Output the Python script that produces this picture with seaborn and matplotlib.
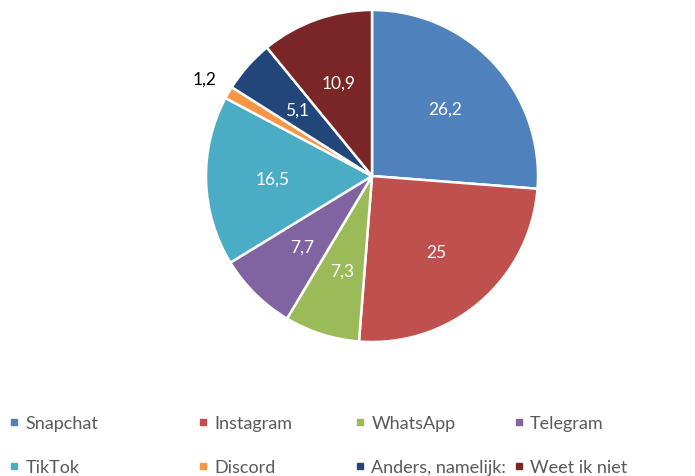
import matplotlib
matplotlib.use("Agg")
import matplotlib.pyplot as plt
from matplotlib.lines import Line2D
import seaborn as sns

categories = ["Snapchat", "Instagram", "WhatsApp", "Telegram", "TikTok",
              "Discord", "Anders, namelijk:", "Weet ik niet"]
values = [26.2, 25, 7.3, 7.7, 16.5, 1.2, 5.1, 10.9]
colors = ["#4F81BD", "#C0504D", "#9BBB59", "#8064A2", "#4BACC6",
          "#F79646", "#23467A", "#7A2626"]

sns.set_theme(style="white")
plt.rcParams['font.family'] = ['Lato', 'DejaVu Sans']

fig = plt.figure(figsize=(6.95, 4.77), dpi=100)
W, H = 695, 477
R_px = 166
lim = 1.25
side = 2 * R_px * lim
cx, cy = 372, 177
ax = fig.add_axes([(cx - side / 2) / W, (H - cy - side / 2) / H, side / W, side / H])

def fmt(v):
    s = f"{v:g}"
    return s.replace(".", ",")

wedges, texts = ax.pie(values, colors=colors, startangle=90, counterclock=False,
                       wedgeprops=dict(edgecolor="white", linewidth=1.8),
                       labels=[fmt(v) for v in values], labeldistance=0.6,
                       textprops=dict(color="white", fontsize=12.5))
for t, v in zip(texts, values):
    t.set_ha("center")
    t.set_va("center")
    if v < 3:
        x, y = t.get_position()
        t.set_position((x / 0.6 * 1.17, y / 0.6 * 1.17))
        t.set_color("black")
ax.set_xlim(-lim, lim)
ax.set_ylim(-lim, lim)
ax.set_aspect("equal")
ax.axis("off")

col_x = [9, 198, 355, 514]
for c in range(4):
    handles = []
    labs = []
    for r in range(2):
        i = c + 4 * r
        handles.append(Line2D([], [], marker="s", linestyle="none",
                              markersize=5, markerfacecolor=colors[i],
                              markeredgecolor=colors[i]))
        labs.append(categories[i])
    leg = fig.legend(handles, labs, loc="upper left",
                     bbox_to_anchor=(col_x[c] / W, 1 - 416 / H),
                     frameon=False, fontsize=13, handlelength=0.55,
                     handletextpad=0.35, labelspacing=1.55,
                     borderpad=0, borderaxespad=0, labelcolor="#595959")

fig.savefig("out.png", dpi=100)
